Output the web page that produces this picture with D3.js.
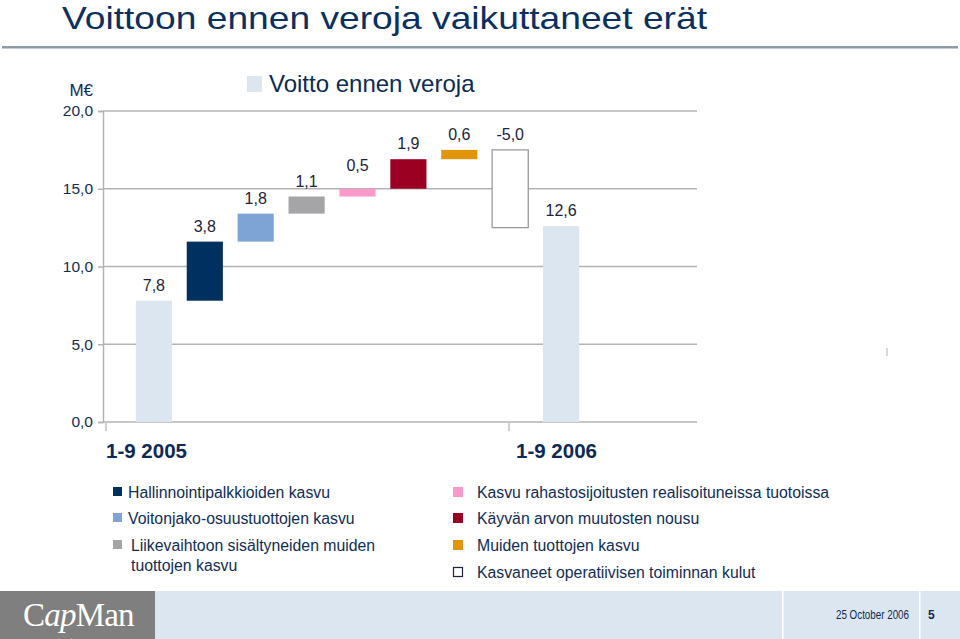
<!DOCTYPE html>
<html><head><meta charset="utf-8">
<script src="https://cdn.jsdelivr.net/npm/d3@7/dist/d3.min.js"></script>
<style>
body{margin:0;background:#fff;}
svg{display:block;font-family:"Liberation Sans",Arial,sans-serif;}
</style></head>
<body><svg id="c" width="960" height="639"></svg>
<script>
// ---- data ----
const steps = ["base2005","hallinnointi","voitonjako","liikevaihto","rahasto","kayva","muut","kulut","total2006"];
const values = [7.8, 3.8, 1.8, 1.1, 0.5, 1.9, 0.6, -5.0, 12.6];
const valueLabels = ["7,8","3,8","1,8","1,1","0,5","1,9","0,6","-5,0","12,6"];
const isTotal = [true,false,false,false,false,false,false,false,true];
const barColors = ["#dce6f0","#00305f","#7ea3d5","#a5a5a8","#fa9acb","#9b0022","#e0950b","#ffffff","#dce6f0"];
const yTicks = [0,5,10,15,20];
const yTickLabels = ["0,0","5,0","10,0","15,0","20,0"];
const groups = ["1-9 2005","1-9 2006"];
const legendLeft = [["Hallinnointipalkkioiden kasvu"],["Voitonjako-osuustuottojen kasvu"],["Liikevaihtoon sisältyneiden muiden","tuottojen kasvu"]];
const legendLeftColors = ["#00305f","#7ea3d5","#a5a5a8"];
const legendRight = ["Kasvu rahastosijoitusten realisoituneissa tuotoissa","Käyvän arvon muutosten nousu","Muiden tuottojen kasvu","Kasvaneet operatiivisen toiminnan kulut"];
const legendRightColors = ["#fa9acb","#9b0022","#e0950b","#ffffff"];

const svg = d3.select("#c");
const navy = "#0f2d57";

// title
svg.append("text").attr("x",62).attr("y",29)
  .attr("font-size",32).attr("fill","#0b3060")
  .attr("textLength",645).attr("lengthAdjust","spacingAndGlyphs")
  .text("Voittoon ennen veroja vaikuttaneet erät");
svg.append("rect").attr("x",2).attr("y",46).attr("width",956).attr("height",2.5).attr("fill","#8b9aa7");

// scales
const y = d3.scaleLinear().domain([0,20]).range([422,111]);
const step = 50.9;
const x = d3.scaleBand().domain(steps).range([103+0.5*step, 103+9.5*step]).paddingInner(0.29).paddingOuter(0.145);
const xg = d3.scaleBand().domain(groups).range([103, 103+2*406]);

// gridlines
svg.append("g").selectAll("line").data(yTicks).join("line")
  .attr("x1",103).attr("x2",697).attr("y1",d=>y(d)).attr("y2",d=>y(d))
  .attr("stroke","#b3b3b3").attr("stroke-width",1.5);
// y axis
const yAxis = d3.axisLeft(y).tickValues(yTicks).tickSize(5).tickFormat((d,i)=>yTickLabels[i]);
const ya = svg.append("g").attr("transform","translate(103,0)").call(yAxis);
ya.select(".domain").attr("stroke","#b3b3b3").attr("stroke-width",1.5);
ya.selectAll(".tick line").attr("stroke","#b3b3b3").attr("stroke-width",1.5);
ya.selectAll(".tick text").attr("font-size",15.5).attr("fill",navy).attr("x",-10)
  .attr("font-family","Liberation Sans, Arial, sans-serif");

// compute waterfall
let run = 0;
const bars = values.map((v,i)=>{
  let lo, hi;
  if (isTotal[i]) { lo = 0; hi = v; run = v; }
  else { const s = run; run = run + v; lo = Math.min(s,run); hi = Math.max(s,run); }
  return {k:steps[i], lo, hi, i};
});

svg.append("g").selectAll("rect").data(bars).join("rect")
  .attr("x",d=>x(d.k)).attr("width",x.bandwidth())
  .attr("y",d=>y(d.hi)).attr("height",d=>y(d.lo)-y(d.hi))
  .attr("fill",d=>barColors[d.i])
  .attr("stroke",d=>barColors[d.i]==="#ffffff"?"#9a9a9a":"none")
  .attr("stroke-width",1.3);

svg.append("g").selectAll("text").data(bars).join("text")
  .attr("x",d=>x(d.k)+x.bandwidth()/2).attr("y",d=>y(d.hi)-(d.i===4?18:10))
  .attr("text-anchor","middle").attr("font-size",16).attr("fill","#1b2340")
  .text(d=>valueLabels[d.i]);

// group axis
const ga = svg.append("g").attr("transform","translate(0,422)");
ga.selectAll("line").data(groups).join("line")
  .attr("x1",d=>xg(d)+(d===groups[0]?3:0)).attr("x2",d=>xg(d)+(d===groups[0]?3:0))
  .attr("y1",1).attr("y2",9).attr("stroke","#b3b3b3").attr("stroke-width",1.2);
ga.selectAll("text").data(groups).join("text")
  .attr("x",d=>xg(d)+(d===groups[0]?3:7)).attr("y",36)
  .attr("font-size",20.5).attr("font-weight","bold").attr("fill","#0c2a55")
  .text(d=>d);

// stray tick mark
svg.append("line").attr("x1",887).attr("x2",887).attr("y1",348).attr("y2",356).attr("stroke","#b3b3b3");

// header legend
svg.append("text").attr("x",93).attr("y",96).attr("text-anchor","end").attr("font-size",17).attr("fill",navy).text("M€");
svg.append("rect").attr("x",247).attr("y",76).attr("width",15).attr("height",16).attr("fill","#dce6f0");
svg.append("text").attr("x",269).attr("y",92).attr("font-size",24).attr("fill","#0c2a55").text("Voitto ennen veroja");

// legends
const ll = svg.append("g");
const leftY = [493,519,546];
legendLeft.forEach((lines,i)=>{
  ll.append("rect").attr("x",113).attr("y",leftY[i]-6).attr("width",9).attr("height",9).attr("fill",legendLeftColors[i]);
  lines.forEach((t,j)=>{
    ll.append("text").attr("x",i===2?131:128).attr("y",leftY[i]+5+j*20).attr("font-size",15.8).attr("fill",navy).text(t);
  });
});
const rightY = [493,519,546,573];
legendRight.forEach((t,i)=>{
  const white = legendRightColors[i]==="#ffffff";
  ll.append("rect").attr("x",white?453.5:453).attr("y",rightY[i]-(white?5.5:6)).attr("width",white?9:10).attr("height",white?9:10)
    .attr("fill",legendRightColors[i]).attr("stroke",white?"#1b2340":"none").attr("stroke-width",1.2);
  ll.append("text").attr("x",477).attr("y",rightY[i]+5).attr("font-size",15.8).attr("fill",navy).text(t);
});

// footer
const f = svg.append("g");
f.append("rect").attr("x",0).attr("y",591).attr("width",960).attr("height",48).attr("fill","#dce6f0");
f.append("rect").attr("x",0).attr("y",591).attr("width",155).attr("height",48).attr("fill","#7f7f7f");
f.append("rect").attr("x",782).attr("y",591).attr("width",1.5).attr("height",48).attr("fill","#ffffff");
f.append("rect").attr("x",919).attr("y",591).attr("width",1.5).attr("height",48).attr("fill","#ffffff");
const logo = f.append("text").attr("x",23).attr("y",626).attr("font-family","Liberation Serif, DejaVu Serif, serif").attr("font-size",33).attr("letter-spacing",-0.8).attr("fill","#ffffff");
logo.append("tspan").text("C");
logo.append("tspan").attr("font-style","italic").text("ap");
logo.append("tspan").text("Man");
f.append("text").attr("x",836).attr("y",619).attr("font-size",12).attr("fill","#0c2a55").attr("textLength",73).attr("lengthAdjust","spacingAndGlyphs").text("25 October 2006");
f.append("text").attr("x",928).attr("y",619).attr("font-size",12).attr("font-weight","bold").attr("fill","#0c2a55").text("5");
</script></body></html>
